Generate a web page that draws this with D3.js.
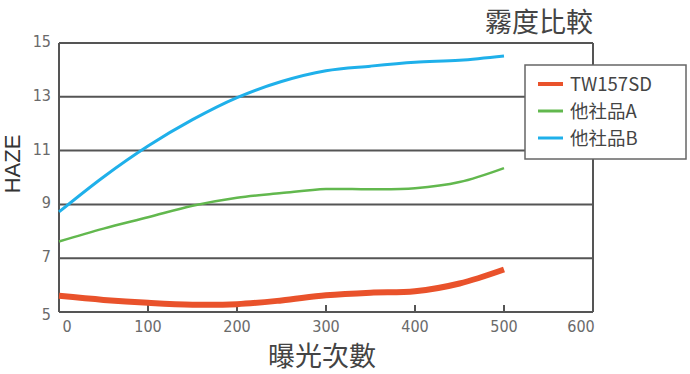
<!DOCTYPE html>
<html>
<head>
<meta charset="utf-8">
<script src="https://cdn.jsdelivr.net/npm/d3@7"></script>
<style>
  body { margin: 0; background: #fff; }
</style>
</head>
<body>
<div id="chart"></div>
<script>
// exposure counts
const exposures = [0, 50, 100, 150, 200, 250, 300, 350, 400, 450, 500];
// haze values
const tw157sd = [5.6, 5.45, 5.34, 5.27, 5.29, 5.43, 5.62, 5.72, 5.77, 6.06, 6.58];
const otherA = [7.62, 8.1, 8.52, 8.95, 9.25, 9.42, 9.57, 9.56, 9.6, 9.83, 10.35];
const otherB = [8.72, 10.02, 11.17, 12.15, 12.97, 13.57, 13.97, 14.14, 14.28, 14.36, 14.52];
const seriesNames = ["TW157SD", "他社品A", "他社品B"];
const xTicks = [0, 100, 200, 300, 400, 500, 600];
const yTicks = [5, 7, 9, 11, 13, 15];

const width = 690, height = 374;
const margin = { top: 43, right: 97, bottom: 62, left: 59 };
const colors = ["#e9522b", "#62b84e", "#1fb0ea"];
const widths = [6, 2.5, 3];
const cjk = "'Noto Sans CJK TC', 'Noto Sans CJK JP', sans-serif";
const narrow = "'Liberation Sans Narrow', 'DejaVu Sans Condensed', sans-serif";

const svg = d3.select("#chart")
    .append("svg")
    .attr("width", width)
    .attr("height", height);

const x = d3.scaleLinear().domain([0, 600]).range([margin.left, width - margin.right]);
const y = d3.scaleLinear().domain([5, 15]).range([height - margin.bottom, margin.top]);

// horizontal grid lines
svg.append("g")
    .selectAll("line")
    .data(yTicks)
    .enter()
    .append("line")
    .attr("x1", x(0))
    .attr("x2", x(600))
    .attr("y1", d => y(d))
    .attr("y2", d => y(d))
    .attr("stroke", "#555")
    .attr("stroke-width", 2);

// left and right borders
svg.append("line")
    .attr("x1", x(0)).attr("x2", x(0))
    .attr("y1", y(5)).attr("y2", y(15))
    .attr("stroke", "#555").attr("stroke-width", 2);
svg.append("line")
    .attr("x1", x(600)).attr("x2", x(600))
    .attr("y1", y(5)).attr("y2", y(15))
    .attr("stroke", "#555").attr("stroke-width", 2);

// bottom ticks (inner)
svg.append("g")
    .selectAll("line")
    .data(xTicks.slice(1, -1))
    .enter()
    .append("line")
    .attr("x1", d => x(d)).attr("x2", d => x(d))
    .attr("y1", y(5)).attr("y2", y(5) - 7)
    .attr("stroke", "#555").attr("stroke-width", 2);

// tick labels
svg.append("g")
    .selectAll("text")
    .data(xTicks)
    .enter()
    .append("text")
    .attr("x", (d, i) => x(d) + (i === 0 ? 8 : (i === xTicks.length - 1 ? -12 : 0)))
    .attr("y", y(5) + 20)
    .attr("text-anchor", "middle")
    .attr("font-family", narrow)
    .attr("font-size", 16)
    .attr("fill", "#6a6a6a")
    .text(d => d);

svg.append("g")
    .selectAll("text")
    .data(yTicks)
    .enter()
    .append("text")
    .attr("x", x(0) - 8)
    .attr("y", d => y(d) + (d === 5 ? 8 : 4))
    .attr("text-anchor", "end")
    .attr("font-family", narrow)
    .attr("font-size", 16)
    .attr("fill", "#6a6a6a")
    .text(d => d);

// lines
const seriesData = [tw157sd, otherA, otherB];
const line = d3.line()
    .x((d, i) => x(exposures[i]))
    .y(d => y(d))
    .curve(d3.curveCatmullRom.alpha(0.5));

svg.append("g")
    .selectAll("path")
    .data(seriesData)
    .enter()
    .append("path")
    .attr("d", d => line(d))
    .attr("fill", "none")
    .attr("stroke", (d, i) => colors[i])
    .attr("stroke-width", (d, i) => widths[i])
    .attr("stroke-linecap", "butt");

// legend
const legend = svg.append("g").attr("transform", "translate(525,65)");
legend.append("rect")
    .attr("width", 161)
    .attr("height", 94)
    .attr("fill", "#fff")
    .attr("stroke", "#666")
    .attr("stroke-width", 1.5);

const items = legend.selectAll(".item")
    .data(seriesNames)
    .enter()
    .append("g")
    .attr("class", "item")
    .attr("transform", (d, i) => `translate(0, ${19 + i * 27})`);

items.append("line")
    .attr("x1", 13).attr("x2", 38)
    .attr("y1", 0).attr("y2", 0)
    .attr("stroke", (d, i) => colors[i])
    .attr("stroke-width", (d, i) => i === 0 ? 4 : 3);

items.append("text")
    .attr("x", 45)
    .attr("y", 7)
    .attr("font-family", cjk)
    .attr("font-size", 18.5)
    .attr("fill", "#444")
    .text(d => d);

// titles
svg.append("text")
    .attr("x", 539)
    .attr("y", 32)
    .attr("text-anchor", "middle")
    .attr("font-family", cjk)
    .attr("font-size", 27)
    .attr("fill", "#444")
    .text("霧度比較");

svg.append("text")
    .attr("x", 322)
    .attr("y", 366)
    .attr("text-anchor", "middle")
    .attr("font-family", cjk)
    .attr("font-size", 27)
    .attr("fill", "#444")
    .text("曝光次數");

svg.append("text")
    .attr("transform", "translate(20,164) rotate(-90)")
    .attr("text-anchor", "middle")
    .attr("font-family", "'Liberation Sans', sans-serif")
    .attr("font-size", 22)
    .attr("fill", "#333")
    .text("HAZE");
</script>
</body>
</html>
